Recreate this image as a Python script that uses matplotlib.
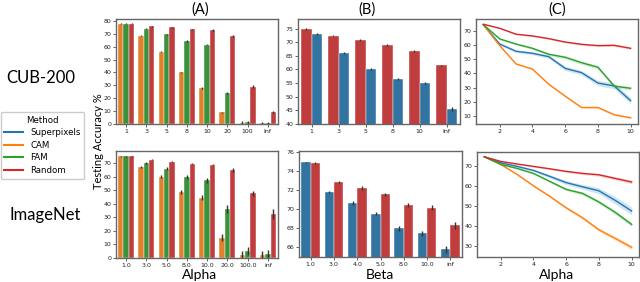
import numpy as np
import matplotlib.pyplot as plt

# colours (seaborn-like desaturated for bars, tab colours for lines)
bar_col = {'Superpixels': '#3274a1', 'CAM': '#e1812c', 'FAM': '#3a923a', 'Random': '#c03d3e'}
line_col = {'Superpixels': '#1f77b4', 'CAM': '#ff7f0e', 'FAM': '#2ca02c', 'Random': '#d62728'}

# (A) CUB-200
a_top_labels = ['1', '3', '5', '8', '10', '20', '100', 'Inf']
a_top_cam = [78, 68.5, 56, 40, 28, 9, 1, 0.5]
a_top_fam = [78, 74, 69.5, 64.5, 61.5, 24, 1.5, 0.8]
a_top_rnd = [78, 76, 75, 73.5, 73, 68, 29, 9]
a_top_err = [0.4, 0.4, 0.5, 0.5, 0.5, 0.7, 1.2, 0.8]

# (A) ImageNet
a_bot_labels = ['1.0', '3.0', '5.0', '8.0', '10.0', '20.0', '100.0', 'inf']
a_bot_cam = [75, 67.5, 60, 49, 44.5, 15, 2.5, 2.5]
a_bot_fam = [75, 70, 66, 60, 57.5, 36, 5, 3]
a_bot_rnd = [75, 72.7, 71.2, 69.7, 69, 65, 47.7, 32.5]
a_bot_err = [0.5, 0.7, 1, 1.5, 1.8, 2.8, 3, 3]
a_bot_rnd_err = [0.4, 0.5, 0.5, 0.6, 0.6, 1.2, 2, 3.5]

# (B) CUB-200
b_top_labels = ['1', '3', '5', '8', '10', 'Inf']
b_top_rnd = [74.8, 72.4, 70.9, 69.0, 66.7, 61.5]
b_top_sp = [73.1, 66.1, 60.2, 56.6, 55.1, 45.5]

# (B) ImageNet
b_bot_labels = ['1.0', '3.0', '4.0', '5.0', '8.0', '10.0', 'inf']
b_bot_sp = [74.9, 71.8, 70.65, 69.55, 68.0, 67.5, 65.8]
b_bot_rnd = [74.8, 72.85, 72.2, 71.55, 70.45, 70.15, 68.3]
b_bot_err = [0.1, 0.15, 0.2, 0.2, 0.25, 0.25, 0.35]

# (C) lines
c_x = [1, 2, 3, 4, 5, 6, 7, 8, 9, 10]
c_top = {
    'Superpixels': [74.2, 60.6, 55.5, 54.1, 51.7, 43.5, 40.5, 33.2, 31.1, 20.8],
    'CAM': [74.0, 59.5, 46.6, 43.0, 32.3, 24.0, 16.0, 16.0, 10.9, 8.8],
    'FAM': [74.2, 64.2, 60.6, 57.6, 53.4, 51.3, 47.5, 44.3, 31.0, 29.5],
    'Random': [74.5, 71.7, 67.5, 66.3, 64.4, 62.0, 60.4, 59.5, 59.7, 57.6],
}
c_top_band = {
    'Superpixels': [0.3, 0.8, 1, 1, 1.2, 1.5, 1.5, 1.8, 2, 2],
    'CAM': [0.3, 0.5, 0.6, 0.6, 0.7, 0.7, 0.7, 0.8, 0.8, 0.8],
    'FAM': [0.3, 0.7, 0.8, 0.8, 1, 1.2, 1.2, 1.3, 1.3, 1.3],
    'Random': [0.3, 0.5, 0.5, 0.6, 0.6, 0.6, 0.7, 0.7, 0.8, 0.8],
}
c_bot = {
    'Superpixels': [74.8, 71.8, 70.0, 68.0, 65.0, 61.9, 59.8, 57.8, 53.0, 47.7],
    'CAM': [74.8, 71.0, 66.0, 60.3, 55.0, 49.3, 44.3, 38.3, 34.0, 29.5],
    'FAM': [74.8, 71.0, 69.0, 66.5, 62.5, 58.5, 56.5, 52.2, 47.0, 41.0],
    'Random': [74.8, 72.5, 71.2, 70.0, 68.8, 67.5, 66.5, 65.8, 64.0, 62.2],
}
c_bot_band = {
    'Superpixels': [0.2, 0.4, 0.5, 0.6, 0.8, 1, 1.2, 1.5, 1.8, 2],
    'CAM': [0.2, 0.3, 0.4, 0.5, 0.6, 0.7, 0.8, 0.9, 1, 1.1],
    'FAM': [0.2, 0.3, 0.4, 0.5, 0.6, 0.7, 0.8, 0.9, 1, 1.1],
    'Random': [0.2, 0.3, 0.3, 0.4, 0.4, 0.5, 0.6, 0.7, 0.8, 0.9],
}

W, H = 640, 282
fig = plt.figure(figsize=(W / 100, H / 100), dpi=100)


def box(l, t, r, b):
    return fig.add_axes([l / W, 1 - b / H, (r - l) / W, (b - t) / H])


def style(ax):
    for s in ax.spines.values():
        s.set_color('#666666')
        s.set_linewidth(1.0)
    ax.tick_params(labelsize=4.5, length=2, width=0.5, pad=1.5, colors='#222222')


def bars(ax, labels, series, errs):
    n = len(series)
    w = 0.8 / n
    x = np.arange(len(labels))
    for j, ((name, vals), err) in enumerate(zip(series, errs)):
        pos = x - 0.4 + (j + 0.5) * w
        ax.bar(pos, vals, width=w, color=bar_col[name], edgecolor='white', linewidth=0.3)
        ax.errorbar(pos, vals, yerr=err, fmt='none', ecolor='#333333', elinewidth=1.0, capsize=0)
    ax.set_xticks(x)
    ax.set_xticklabels(labels)
    ax.set_xlim(-0.5, len(labels) - 0.5)
    style(ax)


axA1 = box(116, 19, 278, 124)
bars(axA1, a_top_labels,
     [('CAM', a_top_cam), ('FAM', a_top_fam), ('Random', a_top_rnd)],
     [a_top_err, a_top_err, a_top_err])
axA1.set_ylim(0, 81.5)
axA1.set_yticks(range(0, 81, 10))

axA2 = box(116, 151, 278, 258)
bars(axA2, a_bot_labels,
     [('CAM', a_bot_cam), ('FAM', a_bot_fam), ('Random', a_bot_rnd)],
     [a_bot_err, a_bot_err, a_bot_rnd_err])
axA2.set_ylim(0, 79)
axA2.set_yticks(range(0, 71, 10))

axB1 = box(298, 19, 460, 124)
bars(axB1, b_top_labels,
     [('Random', b_top_rnd), ('Superpixels', b_top_sp)],
     [[0.3] * 6, [0.3, 0.3, 0.3, 0.4, 0.4, 0.6]])
axB1.set_ylim(40, 78.5)
axB1.set_yticks(range(40, 76, 5))

axB2 = box(299, 151, 462, 257)
bars(axB2, b_bot_labels,
     [('Superpixels', b_bot_sp), ('Random', b_bot_rnd)],
     [b_bot_err, b_bot_err])
axB2.set_ylim(65, 76.1)
axB2.set_yticks(range(66, 77, 2))


def lines(ax, data, band):
    for name in ['Superpixels', 'CAM', 'FAM', 'Random']:
        y = np.array(data[name])
        b = np.array(band[name])
        ax.plot(c_x, y, color=line_col[name], linewidth=1.0)
        ax.fill_between(c_x, y - b, y + b, color=line_col[name], alpha=0.2, linewidth=0)
    ax.set_xlim(0.55, 10.45)
    ax.set_xticks([2, 4, 6, 8, 10])
    style(ax)


axC1 = box(476, 19, 638, 124)
lines(axC1, c_top, c_top_band)
axC1.set_ylim(4.4, 78.2)
axC1.set_yticks(range(10, 71, 10))

axC2 = box(477, 152, 639, 257)
lines(axC2, c_bot, c_bot_band)
axC2.set_ylim(24.7, 77.2)
axC2.set_yticks(range(30, 71, 10))

# titles and labels
fnt = 'Lato'
for x, t in [(200, '(A)'), (367, '(B)'), (557, '(C)')]:
    fig.text(x / W, 1 - 10 / H, t, ha='center', va='center', fontsize=10.5, family=fnt)
for x, t in [(200, 'Alpha'), (380, 'Beta'), (557, 'Alpha')]:
    fig.text(x / W, 1 - 275 / H, t, ha='center', va='center', fontsize=10, family=fnt)
fig.text(41 / W, 1 - 78 / H, 'CUB-200', ha='center', va='center', fontsize=12, family=fnt)
fig.text(45 / W, 1 - 215 / H, 'ImageNet', ha='center', va='center', fontsize=12, family=fnt)
fig.text(98 / W, 1 - 141 / H, 'Testing Accuracy %', ha='center', va='center',
         rotation=90, fontsize=8, family=fnt)

# legend
handles = [plt.Line2D([], [], color=line_col[k], linewidth=1.5)
           for k in ['Superpixels', 'CAM', 'FAM', 'Random']]
leg = fig.legend(handles, ['Superpixels', 'CAM', 'FAM', 'Random'], title='Method',
                 loc='upper left', bbox_to_anchor=(0.5 / W, 1 - 112 / H), borderaxespad=0,
                 fontsize=6.2, title_fontsize=6.2, handlelength=2.2, borderpad=0.45,
                 labelspacing=0.4, handletextpad=0.8, framealpha=1, edgecolor='#cccccc',
                 fancybox=True)

fig.savefig('out.png', dpi=100)
